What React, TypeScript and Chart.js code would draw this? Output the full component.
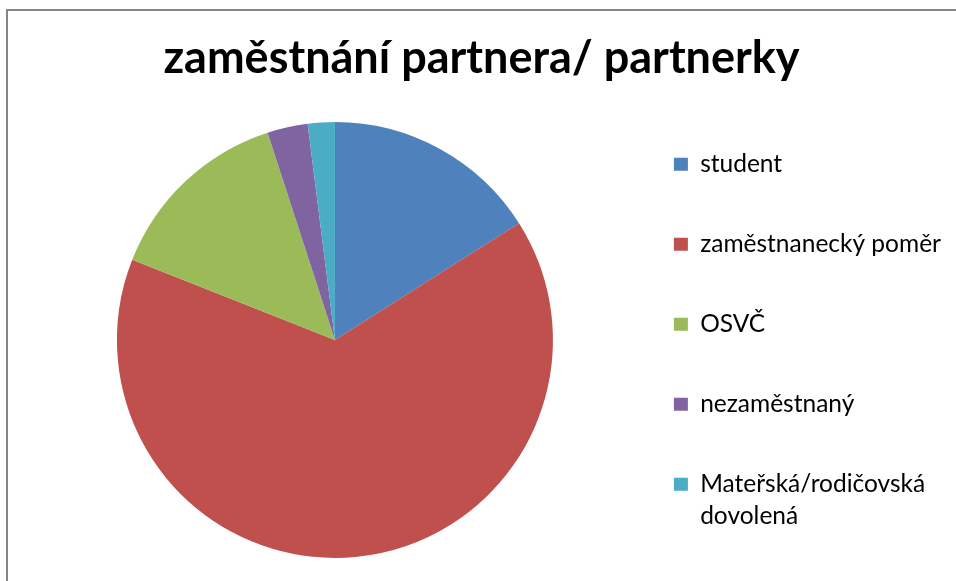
import React, { useEffect, useRef } from 'react';
import { Chart, registerables } from 'chart.js';

Chart.register(...registerables);

const TITLE = 'zaměstnání partnera/ partnerky';
const CATEGORIES = ['student', 'zaměstnanecký poměr', 'OSVČ', 'nezaměstnaný', 'Mateřská/rodičovská dovolená'];
const VALUES = [16, 65, 14, 3, 2];
const COLORS = ['#4F81BD', '#C0504D', '#9BBB59', '#8064A2', '#4BACC6'];

function wrapLabel(text: string, max: number): string[] {
  const words = text.split(' ');
  const lines: string[] = [];
  let cur = '';
  for (const w of words) {
    if (cur && (cur + ' ' + w).length > max) {
      lines.push(cur);
      cur = w;
    } else {
      cur = cur ? cur + ' ' + w : w;
    }
  }
  if (cur) lines.push(cur);
  while (lines.length < 2) lines.push('');
  return lines;
}

export default function App() {
  const canvasRef = useRef<HTMLCanvasElement | null>(null);

  useEffect(() => {
    if (!canvasRef.current) return;
    const chart = new Chart(canvasRef.current, {
      type: 'pie',
      data: {
        labels: CATEGORIES,
        datasets: [
          {
            data: VALUES,
            backgroundColor: COLORS,
            borderWidth: 0,
            radius: 218,
            clip: false,
          } as any,
        ],
      },
      options: {
        responsive: false,
        animation: false,
        devicePixelRatio: 1,
        layout: { padding: { left: 12, right: 5, top: 0, bottom: 29 } },
        plugins: {
          title: {
            display: true,
            text: TITLE,
            color: '#000000',
            font: { family: 'Lato', size: 45, weight: 'bold', lineHeight: 1.2 },
            padding: { top: 31, bottom: 43 },
          },
          legend: {
            position: 'right',
            align: 'end',
            fullSize: false,
            labels: {
              boxWidth: 14,
              boxHeight: 13,
              padding: 16,
              color: '#000000',
              font: { family: 'Lato', size: 24.5, lineHeight: 32 / 24.5 },
              generateLabels: (chart: any) =>
                (chart.data.labels as string[]).map((label: string, i: number) => ({
                  text: wrapLabel(label, 20),
                  fillStyle: COLORS[i],
                  strokeStyle: COLORS[i],
                  lineWidth: 0,
                  hidden: false,
                  index: i,
                  fontColor: '#000000',
                })),
            },
          },
          tooltip: { enabled: false },
        },
      } as any,
    });
    return () => chart.destroy();
  }, []);

  return (
    <div
      style={{
        position: 'fixed',
        left: 0,
        top: 0,
        width: 956,
        height: 581,
        overflow: 'hidden',
        background: '#ffffff',
      }}
    >
      <div
        style={{
          position: 'absolute',
          left: 6,
          top: 9,
          width: 980,
          height: 600,
          border: '2px solid #868686',
          boxSizing: 'border-box',
        }}
      />
      <canvas
        ref={canvasRef}
        width={956}
        height={581}
        style={{ position: 'absolute', left: 0, top: 0, width: 956, height: 581 }}
      />
    </div>
  );
}
